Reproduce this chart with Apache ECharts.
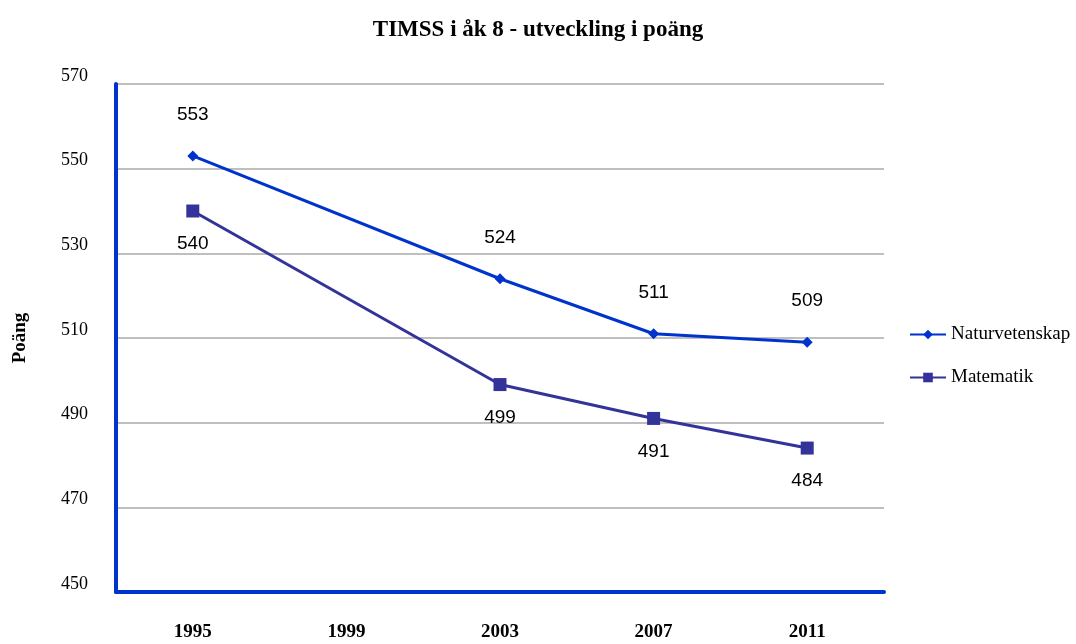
<!DOCTYPE html>
<html>
<head>
<meta charset="utf-8">
<script src="https://cdn.jsdelivr.net/npm/echarts@6/dist/echarts.min.js"></script>
<style>
  html, body { margin: 0; padding: 0; background: #fff; }
  #chart { width: 1076px; height: 644px; }
</style>
</head>
<body>
<div id="chart"></div>
<script>
const years = ['1995', '1999', '2003', '2007', '2011'];
const naturvetenskap = [553, null, 524, 511, 509];
const matematik = [540, null, 499, 491, 484];
const yTicks = { min: 450, max: 570, step: 20 };

const serif = '"Liberation Serif", "DejaVu Serif", serif';
const sans = '"Liberation Sans", "DejaVu Sans", sans-serif';

const chart = echarts.init(document.getElementById('chart'));
chart.setOption({
  animation: false,
  title: {
    text: 'TIMSS i åk 8 - utveckling i poäng',
    left: 'center',
    top: 14,
    textStyle: { fontFamily: serif, fontSize: 23, fontWeight: 'bold', color: '#000' }
  },
  legend: {
    orient: 'vertical',
    left: 904,
    top: 320,
    itemGap: 24,
    itemWidth: 36,
    itemHeight: 12,
    textStyle: { fontFamily: serif, fontSize: 19, color: '#000', padding: [0, 0, 10, 0] },
    data: ['Naturvetenskap', 'Matematik']
  },
  grid: { left: 116, right: 192, top: 84, bottom: 52 },
  xAxis: {
    type: 'category',
    boundaryGap: true,
    data: years,
    axisLine: { lineStyle: { color: '#0033cc', width: 4 } },
    axisTick: { show: false },
    axisLabel: { margin: 31, fontFamily: serif, fontSize: 19, fontWeight: 'bold', color: '#000' }
  },
  yAxis: {
    type: 'value',
    min: yTicks.min,
    max: yTicks.max,
    interval: yTicks.step,
    name: 'Poäng',
    nameLocation: 'middle',
    nameGap: 86,
    nameTextStyle: { fontFamily: serif, fontSize: 19, fontWeight: 'bold', color: '#000' },
    axisLine: { show: true, lineStyle: { color: '#0033cc', width: 4 } },
    axisTick: { show: false },
    splitLine: { lineStyle: { color: '#bfbfbf', width: 2 } },
    axisLabel: { margin: 28, fontFamily: serif, fontSize: 18, color: '#000', verticalAlign: 'bottom', lineHeight: 16 }
  },
  series: [
    {
      name: 'Naturvetenskap',
      type: 'line',
      data: naturvetenskap,
      connectNulls: true,
      symbol: 'diamond',
      symbolSize: 11,
      lineStyle: { color: '#0033cc', width: 3 },
      itemStyle: { color: '#0033cc' },
      label: { show: true, position: 'top', distance: 26, fontFamily: sans, fontSize: 19, color: '#000' }
    },
    {
      name: 'Matematik',
      type: 'line',
      data: matematik,
      connectNulls: true,
      symbol: 'rect',
      symbolSize: 13,
      lineStyle: { color: '#333399', width: 3 },
      itemStyle: { color: '#333399' },
      label: { show: true, position: 'bottom', distance: 17, fontFamily: sans, fontSize: 19, color: '#000' }
    }
  ]
});
</script>
</body>
</html>
